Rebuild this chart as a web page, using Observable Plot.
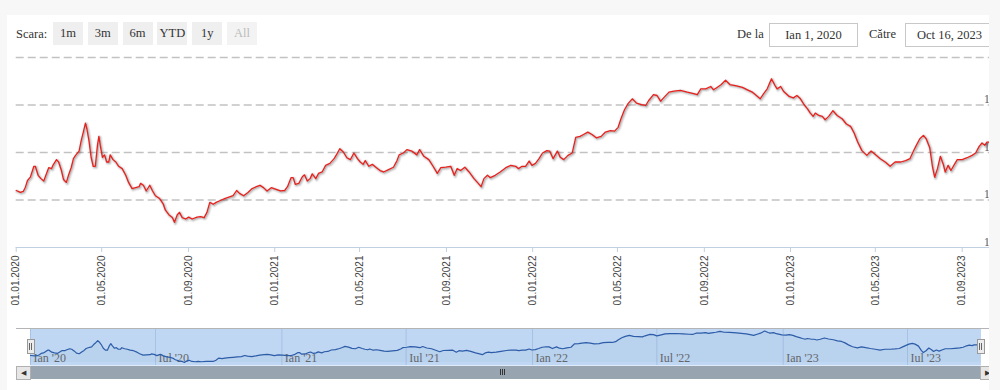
<!DOCTYPE html>
<html><head><meta charset="utf-8">
<script src="https://cdn.jsdelivr.net/npm/d3@7"></script>
<script src="https://cdn.jsdelivr.net/npm/@observablehq/plot@0.6"></script>
<style>
body{margin:0;background:#f7f7f7;width:1000px;height:390px;overflow:hidden;font-family:"Liberation Serif",serif;}
#panel{position:absolute;left:7px;top:15px;width:982px;height:375px;background:#fff;overflow:hidden;}
#stage{position:absolute;left:-7px;top:-15px;width:1000px;height:390px;}
.abs{position:absolute;}
.lbl{position:absolute;font-size:12.5px;color:#333;line-height:24px;top:22px;}
.btn{position:absolute;top:22px;width:30px;height:23px;line-height:23px;text-align:center;background:#efefef;font-size:12.5px;color:#333;}
.btn.dis{color:#bbb;background:#f3f3f3;}
.box{position:absolute;top:23px;height:22px;width:87px;border:1px solid #c8c8c8;text-align:center;line-height:22px;font-size:12.5px;color:#333;background:#fff;}
svg{position:absolute;left:0;top:0;}
.handle{position:absolute;top:339px;width:6px;height:13px;background:#ececec;border:1px solid #999;}
.handle:before,.handle:after{content:"";position:absolute;top:3px;width:1px;height:7px;background:#666;}
.handle:before{left:1.5px}.handle:after{left:3.5px}
</style></head>
<body>
<div id="panel"><div id="stage">
  <div class="lbl" style="left:16px">Scara:</div>
  <div id="buttons"></div>
  <div class="lbl" style="left:737px">De la</div>
  <div class="box" style="left:769px" id="fromBox"></div>
  <div class="lbl" style="left:869px">Către</div>
  <div class="box" style="left:905px" id="toBox"></div>
  <div id="main"></div>
  <div id="nav"></div>
  <div class="abs" style="left:16px;top:327.5px;width:974px;height:1px;background:#b4b4b4"></div>
  <div class="abs" style="left:16px;top:365.5px;width:974px;height:13px;background:#98a4b0"></div>
  <div class="abs" style="left:16px;top:365.5px;width:13px;height:12px;background:#e6e6e6;border:1px solid #b0b0b0;font-size:7px;line-height:12px;text-align:center;color:#333">&#9664;</div>
  <div class="abs" style="left:980px;top:365.5px;width:13px;height:12px;background:#e6e6e6;border:1px solid #b0b0b0;font-size:7px;line-height:12px;text-align:center;color:#333">&#9654;</div>
  <div class="abs" style="left:500px;top:369px;width:1px;height:6px;background:#333"></div>
  <div class="abs" style="left:502px;top:369px;width:1px;height:6px;background:#333"></div>
  <div class="abs" style="left:504px;top:369px;width:1px;height:6px;background:#333"></div>
  <div class="handle" style="left:26.5px"></div>
  <div class="handle" style="left:976.5px"></div>
</div></div>
<script>
// ---- data (days since 2020-01-01, value) ----
const days = [
  0,6,10,13,16,20,25,27,31,35,
  39,42,46,50,52,57,60,64,67,71,
  74,78,81,84,89,92,95,98,100,103,
  106,109,112,115,117,119,122,125,128,131,
  133,137,141,145,150,155,159,164,169,174,
  176,180,184,189,193,197,203,208,211,216,
  221,224,228,231,235,240,244,249,256,261,
  266,270,274,279,283,289,295,301,307,312,
  316,322,328,334,340,345,350,355,361,367,
  374,380,384,389,392,395,400,405,408,412,
  416,419,424,428,433,438,444,450,454,458,
  463,468,473,478,483,487,491,494,499,504,
  509,515,520,527,534,539,542,548,553,560,
  567,571,577,584,590,596,601,608,615,620,
  624,629,635,641,648,654,658,662,667,671,
  678,685,693,700,707,711,716,721,726,730,
  735,740,745,751,755,760,766,770,775,781,
  787,792,798,803,809,815,821,828,834,841,
  847,852,856,861,866,872,878,885,891,895,
  902,907,912,917,924,931,940,950,959,964,
  969,976,983,987,992,998,1004,1010,1018,1028,
  1035,1042,1046,1053,1058,1063,1069,1074,1077,1082,
  1086,1094,1100,1105,1110,1115,1120,1124,1128,1131,
  1136,1141,1145,1150,1156,1162,1169,1175,1181,1186,
  1191,1197,1204,1210,1216,1223,1230,1237,1244,1252,
  1259,1265,1270,1274,1279,1284,1288,1293,1297,1300,
  1304,1308,1312,1315,1319,1323,1328,1332,1339,1346,
  1353,1358,1363,1367,1371,1374,1379,1384
];
const values = [
  17.20,17.16,17.18,17.27,17.41,17.48,17.71,17.71,17.52,17.45,
  17.40,17.52,17.68,17.66,17.73,17.85,17.80,17.62,17.43,17.37,
  17.52,17.69,17.87,17.94,18.03,18.25,18.43,18.62,18.50,18.25,
  17.90,17.71,17.71,18.15,18.34,18.15,17.90,17.95,17.80,17.80,
  17.95,17.85,17.80,17.71,17.66,17.52,17.37,17.24,17.26,17.28,
  17.35,17.31,17.19,17.31,17.19,17.09,17.03,16.92,16.79,16.69,
  16.63,16.53,16.69,16.74,16.63,16.60,16.64,16.60,16.64,16.65,
  16.63,16.74,16.95,16.91,16.95,16.99,17.03,17.06,17.09,17.20,
  17.14,17.09,17.16,17.24,17.28,17.31,17.26,17.19,17.26,17.23,
  17.19,17.20,17.28,17.47,17.47,17.33,17.35,17.49,17.53,17.40,
  17.45,17.55,17.45,17.56,17.59,17.73,17.77,17.87,17.97,18.08,
  18.01,17.89,17.85,17.99,17.87,17.80,17.75,17.83,17.71,17.75,
  17.69,17.62,17.59,17.64,17.69,17.83,17.95,17.99,18.06,18.03,
  17.95,18.06,17.92,17.85,17.71,17.56,17.68,17.69,17.71,17.52,
  17.66,17.62,17.69,17.59,17.45,17.35,17.28,17.45,17.52,17.47,
  17.52,17.59,17.68,17.73,17.71,17.66,17.71,17.71,17.82,17.73,
  17.77,17.87,17.99,18.04,18.03,17.87,18.03,17.90,17.85,17.94,
  17.99,18.32,18.34,18.38,18.43,18.38,18.31,18.34,18.43,18.46,
  18.45,18.53,18.71,18.90,19.03,19.13,19.04,19.01,18.99,19.09,
  19.22,19.20,19.08,19.16,19.27,19.29,19.31,19.27,19.24,19.22,
  19.34,19.34,19.39,19.32,19.37,19.43,19.52,19.43,19.41,19.37,
  19.32,19.27,19.22,19.13,19.24,19.34,19.55,19.41,19.34,19.39,
  19.29,19.18,19.15,19.20,19.13,19.01,18.92,18.83,18.76,18.83,
  18.78,18.76,18.69,18.76,18.88,18.78,18.71,18.60,18.55,18.41,
  18.22,18.04,17.94,18.03,17.96,17.87,17.80,17.71,17.80,17.80,
  17.83,17.87,18.03,18.15,18.29,18.36,18.29,18.10,17.69,17.48,
  17.66,17.92,17.76,17.59,17.73,17.62,17.75,17.85,17.85,17.89,
  17.94,17.99,18.13,18.20,18.15,18.22,18.22,18.22
];
const rangeButtons = ["1m","3m","6m","YTD","1y","All"];
const rangeStart = "2020-01-01", rangeEnd = "2023-10-16";
const rangeLabels = ["Ian 1, 2020", "Oct 16, 2023"];
const xTickDates = ["2020-01-01","2020-05-01","2020-09-01","2021-01-01","2021-05-01","2021-09-01",
  "2022-01-01","2022-05-01","2022-09-01","2023-01-01","2023-05-01","2023-09-01"];
const yTicks = [16,17,18,19,20];
const yLabelTicks = [16,17,18,19];
const navTickDates = ["2020-01-01","2020-07-01","2021-01-01","2021-07-01","2022-01-01","2022-07-01","2023-01-01","2023-07-01"];
const navTickLabels = ["Ian '20","Iul '20","Ian '21","Iul '21","Ian '22","Iul '22","Ian '23","Iul '23"];

// ---- build ----
const base = Date.UTC(2020,0,1);
const series = days.map((d,i)=>({date:new Date(base + d*864e5), value:values[i]}));
const start = new Date(rangeStart), end = new Date(rangeEnd);
const xTicks = xTickDates.map(s=>new Date(s));
const navTicks = navTickDates.map((s,i)=>({date:new Date(s), label:navTickLabels[i]}));

const bDiv = document.getElementById("buttons");
rangeButtons.forEach((b,i)=>{
  const e=document.createElement("div");
  e.className="btn"+(b==="All"?" dis":"");
  e.style.left=(53+i*34.8)+"px";
  e.textContent=b; bDiv.appendChild(e);
});
document.getElementById("fromBox").textContent=rangeLabels[0];
document.getElementById("toBox").textContent=rangeLabels[1];

const main = Plot.plot({
  width:1000, height:320,
  marginLeft:15.7, marginRight:6.5, marginTop:57, marginBottom:73,
  x:{type:"utc", domain:[start,end]},
  y:{domain:[16,20]},
  style:{background:"transparent", overflow:"visible", fontFamily:"Liberation Sans"},
  marks:[
    Plot.gridY(yTicks.slice(1), {stroke:"#c2c2c2", strokeOpacity:1, strokeWidth:1.5, strokeDasharray:"8,4"}),
    Plot.ruleY([16], {stroke:"#c0d0e0"}),
    Plot.axisX(xTicks, {tickSize:5, tickPadding:3, tickRotate:-90, tickFormat:d3.utcFormat("%d.%m.%Y"),
      stroke:"#c0d0e0", fill:"#444", fontSize:10, fontFamily:"Liberation Sans", label:null}),
    Plot.axisY({ticks:[], label:null}),
    Plot.text(yLabelTicks, {y:d=>d, text:d=>String(d), frameAnchor:"right", textAnchor:"start",
      dx:-10, dy:-2, lineAnchor:"bottom", fill:"#555", fontSize:11.5, fontFamily:"Liberation Serif"}),
    Plot.lineY(series, {x:"date", y:"value", stroke:"#000", strokeOpacity:0.05, strokeWidth:5, dx:1, dy:1}),
    Plot.lineY(series, {x:"date", y:"value", stroke:"#000", strokeOpacity:0.1, strokeWidth:3, dx:1, dy:1}),
    Plot.lineY(series, {x:"date", y:"value", stroke:"#000", strokeOpacity:0.15, strokeWidth:1, dx:1, dy:1}),
    Plot.lineY(series, {x:"date", y:"value", stroke:"#e8211d", strokeWidth:1.3})
  ]
});
document.getElementById("main").appendChild(main);

const nav = Plot.plot({
  width:1000, height:390,
  marginLeft:30, marginRight:19.5, marginTop:328, marginBottom:25,
  x:{type:"utc", domain:[start,end], axis:null},
  y:{domain:d3.extent(values), insetTop:2.5, insetBottom:3, axis:null},
  style:{background:"transparent", overflow:"visible"},
  marks:[
    Plot.frame({fill:"#bfd7f2", stroke:null}),
    Plot.ruleX(navTicks, {x:"date", stroke:"#a6c2e4", strokeWidth:1}),
    Plot.text(navTicks, {x:"date", text:"label", frameAnchor:"bottom", dy:-4, dx:3, textAnchor:"start",
      lineAnchor:"bottom", fill:"#666", fontSize:12, fontFamily:"Liberation Serif"}),
    Plot.areaY(series, {x:"date", y:"value", y1:d3.min(values), fill:"#4572a7", fillOpacity:0.05}),
    Plot.lineY(series, {x:"date", y:"value", stroke:"#2d5ca8", strokeWidth:1.2})
  ]
});
document.getElementById("nav").appendChild(nav);
</script>
</body></html>
